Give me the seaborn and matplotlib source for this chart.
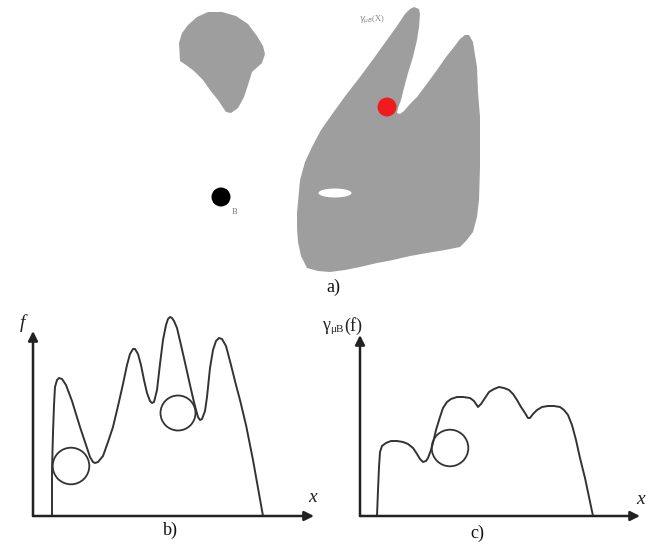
import numpy as np
import pandas as pd
import matplotlib
matplotlib.use("Agg")
import matplotlib.pyplot as plt
from matplotlib.patches import Circle, Ellipse
import seaborn as sns

# panel a) - outlines of the grey sets (pixel coordinates of the figure)
blob_x = [179, 182, 188, 197, 208, 222, 236, 248, 257, 263, 265, 262, 252, 248, 244, 238, 231, 226, 218, 210, 203, 194, 186, 180, 179]
blob_y = [43, 33, 25, 17, 12, 12, 16, 24, 36, 46, 54, 63, 72, 85, 97, 108, 113, 112, 100, 90, 80, 71, 65, 61, 43]

shape_x = [307, 301, 298, 297, 297, 300, 305, 312, 321, 333, 346, 360, 374, 387, 397, 405, 410, 414, 419, 420, 419, 417, 413, 408, 404, 401, 398, 397,
           400, 404, 410, 417, 426, 437, 446, 454, 460, 465, 469, 473, 475, 477, 478, 480, 480, 479, 477, 473, 466, 460, 445, 427, 410, 393, 377, 360, 345, 330, 318, 307]
shape_y = [268, 256, 242, 228, 213, 180, 162, 147, 130, 113, 95, 77, 58, 40, 26, 14, 9, 7, 9, 14, 27, 40, 57, 73, 88, 100, 108, 113,
           114, 111, 104, 97, 85, 70, 57, 47, 39, 35, 35, 42, 55, 67, 92, 117, 167, 200, 217, 232, 241, 247, 250, 253, 256, 260, 263, 267, 270, 272, 271, 268]

hole_xy = (335, 193)
hole_size = (33, 9)
red_dot = (387, 107)
black_dot = (221, 197)
dot_r = 9.5

# panel b) - f(x)
fx = [52, 52, 53, 54, 55, 57, 59, 62, 66, 72, 80, 86, 90, 93, 95, 98, 103, 108, 113, 118, 123, 127, 130, 133, 135, 138, 141, 144, 147, 150, 152, 154, 157, 160,
      163, 166, 168, 170, 172, 174, 177, 181, 186, 190, 193, 196, 198, 200, 202, 205, 207, 210, 213, 216, 219, 222, 226, 231, 236, 240, 246, 253, 258, 263]
fy = [516, 470, 433, 405, 387, 380, 378, 379, 385, 401, 427, 445, 457, 462, 463, 462, 456, 442, 427, 406, 384, 365, 354, 349, 349, 354, 365, 380, 393, 401, 403, 402, 390, 364,
      340, 325, 319, 317, 318, 321, 328, 345, 367, 385, 398, 410, 417, 420, 419, 411, 397, 368, 350, 341, 338, 339, 346, 365, 385, 400, 425, 460, 488, 516]

# panel c) - gamma_muB(f)(x)
gx = [377, 378, 379, 380, 382, 386, 391, 397, 403, 408, 413, 417, 420, 423, 426, 428, 431, 433, 436, 440, 443, 447, 451, 457, 463, 470, 474, 478, 481, 485,
      489, 494, 499, 504, 509, 513, 517, 521, 525, 528, 530, 533, 537, 542, 548, 554, 560, 564, 568, 572, 576, 580, 585, 589, 593]
gy = [516, 490, 467, 452, 446, 443, 441, 441, 442, 444, 448, 454, 459, 462, 461, 458, 450, 443, 430, 417, 408, 402, 399, 397, 397, 398, 401, 407, 404, 398,
      392, 389, 387, 388, 390, 394, 400, 407, 413, 418, 418, 414, 410, 407, 406, 406, 407, 410, 415, 425, 440, 458, 478, 497, 516]

# structuring element circles (centre x, centre y, radius)
circle_x = [71, 178, 450]
circle_y = [466, 413, 448]
circle_r = [18.3, 17.5, 18.3]

# axes of panels b) and c): origin and arrow tips
axis_origin_x = [33, 360]
axis_origin_y = [516, 516]
axis_tip_x = [314, 640]
axis_tip_y = [331, 335]

sns.set_theme(style="white")
plt.rcParams['font.family'] = ['Liberation Serif', 'DejaVu Serif']

fig = plt.figure(figsize=(6.48, 5.5), dpi=100)
ax = fig.add_axes([0, 0, 1, 1])
ax.set_xlim(0, 648)
ax.set_ylim(550, 0)
ax.axis("off")

grey = "#9e9e9e"
ax.fill(blob_x, blob_y, color=grey, lw=0)
ax.fill(shape_x, shape_y, color=grey, lw=0)
ax.add_patch(Ellipse(hole_xy, hole_size[0], hole_size[1], color="white", lw=0))
ax.add_patch(Circle(red_dot, dot_r, color="#ee1c1c", lw=0))
ax.add_patch(Circle(black_dot, dot_r, color="black", lw=0))
ax.text(235, 212, "B", fontsize=6, color="#777777", ha="center", va="center")
ax.text(372, 20, r"$\gamma_{\mu B}$(X)", fontsize=6, color="#888888", ha="center", va="center")
ax.text(333, 287, "a)", fontsize=13, ha="center", va="center", color="#111111")

line_col = "#333333"
curves = pd.DataFrame({"x": fx + gx, "y": fy + gy,
                       "panel": ["b"] * len(fx) + ["c"] * len(gx)})
for name, d in curves.groupby("panel"):
    sns.lineplot(x=d["x"].values, y=d["y"].values, sort=False, estimator=None,
                 color=line_col, lw=1.4, ax=ax)

for cx, cy, r in zip(circle_x, circle_y, circle_r):
    ax.add_patch(Circle((cx, cy), r, fill=False, ec=line_col, lw=1.3))

for ox, oy, tx, ty in zip(axis_origin_x, axis_origin_y, axis_tip_x, axis_tip_y):
    for end in [(tx, oy), (ox, ty)]:
        ax.annotate("", xy=end, xytext=(ox, oy),
                    arrowprops=dict(arrowstyle="-|>", color="#222222", lw=1.8,
                                    mutation_scale=14, shrinkA=0, shrinkB=0))

ax.text(22, 323, "f", fontsize=14, style="italic", ha="center", va="center", color="#222222")
ax.text(313, 497, "x", fontsize=14, style="italic", ha="center", va="center", color="#222222")
ax.text(641, 499, "x", fontsize=14, style="italic", ha="center", va="center", color="#222222")
ax.text(330, 326, "γ", fontsize=13, ha="right", va="center", color="#222222")
ax.text(330, 330, "μB", fontsize=8, ha="left", va="center", color="#222222")
ax.text(344, 326, "(f)", fontsize=13, ha="left", va="center", color="#222222")
ax.text(170, 530, "b)", fontsize=13, ha="center", va="center", color="#111111")
ax.text(477, 533, "c)", fontsize=13, ha="center", va="center", color="#111111")

fig.savefig("out.png", dpi=100)
